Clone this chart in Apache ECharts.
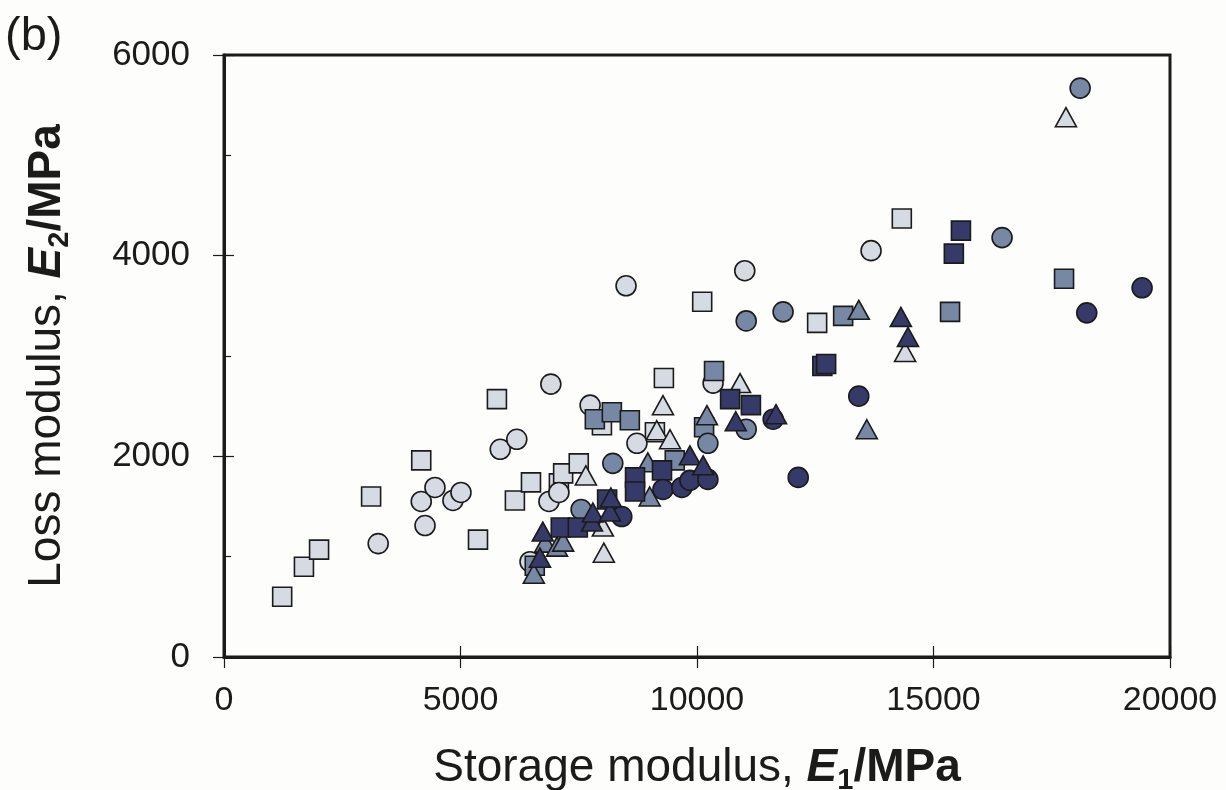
<!DOCTYPE html>
<html>
<head>
<meta charset="utf-8">
<script src="https://cdn.jsdelivr.net/npm/echarts@6/dist/echarts.min.js"></script>
<style>
  html, body { margin: 0; padding: 0; background: #fdfdfc; overflow: hidden; }
  #chart { width: 1226px; height: 790px; }
</style>
</head>
<body>
<div id="chart"></div>
<script>
// Storage modulus E1 (MPa) vs loss modulus E2 (MPa), [E1, E2] pairs per group
const lightSquares = [[1230, 600], [1690, 900], [2010, 1070], [3110, 1600], [4170, 1960], [5370, 1170], [5770, 2570], [6150, 1560], [6490, 1740], [7080, 1730], [7170, 1830], [7500, 1930], [7990, 2310], [9110, 2240], [9300, 2780], [10110, 3540], [12540, 3330], [14330, 4370]];
const lightCircles = [[3260, 1130], [4170, 1550], [4250, 1310], [4460, 1690], [4840, 1560], [5010, 1640], [5840, 2070], [6190, 2170], [6470, 950], [6870, 1550], [7080, 1640], [6910, 2720], [7740, 2510], [8500, 3700], [8730, 2130], [10340, 2730], [11010, 3850], [13680, 4050]];
const lightTriangles = [[7650, 1810], [8010, 1300], [8030, 1040], [9150, 2260], [9280, 2510], [9430, 2170], [10910, 2730], [14400, 3040], [17800, 5380]];

const midSquares = [[6570, 910], [7840, 2370], [8200, 2440], [8580, 2360], [9530, 1960], [10150, 2290], [10360, 2850], [13090, 3400], [15350, 3440], [17760, 3770]];
const midCircles = [[7550, 1470], [8220, 1930], [10230, 2130], [11040, 2270], [11040, 3350], [11820, 3440], [16450, 4180], [18100, 5670]];
const midTriangles = [[6550, 830], [6790, 1140], [7040, 1100], [7170, 1150], [8960, 1940], [9000, 1600], [10210, 2410], [13420, 3460], [13590, 2270]];

const darkSquares = [[7120, 1290], [7480, 1290], [8100, 1570], [8690, 1790], [8690, 1650], [9260, 1860], [10700, 2570], [11140, 2510], [12650, 2900], [12730, 2920], [15430, 4020], [15580, 4250]];
const darkCircles = [[8410, 1400], [9280, 1670], [9680, 1690], [9850, 1760], [10230, 1770], [11610, 2370], [12140, 1790], [13420, 2600], [18240, 3430], [19410, 3680]];
const darkTriangles = [[6680, 990], [6740, 1250], [7780, 1350], [7800, 1440], [8160, 1450], [8180, 1590], [9850, 2010], [10130, 1910], [10820, 2350], [11670, 2420], [14310, 3390], [14460, 3190]];

const xRange = { min: 0, max: 20000, interval: 5000 };
const yRange = { min: 0, max: 6000, interval: 2000 };

const FONT = "'Liberation Sans', Arial, Helvetica, sans-serif";
const INK = '#1b1b1b';
const fills = { light: '#d5dae3', mid: '#7788a4', dark: '#363a69' };

function scatter(data, shape, fill) {
  const size = shape === 'triangle' ? [21, 19] : (shape === 'rect' ? 19 : 20);
  return {
    type: 'scatter',
    data: data,
    symbol: shape,
    symbolSize: size,
    itemStyle: { color: fill, borderColor: INK, borderWidth: 1.6, opacity: 1 },
    emphasis: { disabled: true }
  };
}

// plain integers on the tick labels, no thousands separator
const plain = v => String(Math.round(v));

const nameRich = {
  n: { fontSize: 46, fontFamily: FONT, color: INK, lineHeight: 54, verticalAlign: 'middle' },
  e: { fontSize: 46, fontFamily: FONT, color: INK, fontWeight: 'bold', fontStyle: 'italic', lineHeight: 54, verticalAlign: 'middle' },
  s: { fontSize: 29, fontFamily: FONT, color: INK, fontWeight: 'bold', lineHeight: 30, verticalAlign: 'bottom' },
  b: { fontSize: 46, fontFamily: FONT, color: INK, fontWeight: 'bold', lineHeight: 54, verticalAlign: 'middle' }
};

const chart = echarts.init(document.getElementById('chart'), null, { renderer: 'canvas', width: 1226, height: 790 });
chart.setOption({
  backgroundColor: '#fdfdfc',
  animation: false,
  title: {
    text: '(b)', left: 0, top: 9,
    textStyle: { fontFamily: FONT, fontSize: 47, fontWeight: 'normal', color: INK }
  },
  grid: {
    left: 224, right: 56, top: 55, bottom: 133,
    outerBoundsMode: 'none', containLabel: false,
    show: true, borderColor: INK, borderWidth: 3, backgroundColor: 'transparent'
  },
  xAxis: [{
    type: 'value', min: xRange.min, max: xRange.max, interval: xRange.interval,
    position: 'bottom',
    axisLine: { show: true, lineStyle: { color: INK, width: 3 } },
    axisTick: { show: true, inside: false, length: 11, lineStyle: { color: INK, width: 1.2 } },
    axisLabel: { margin: 27, fontSize: 34, fontFamily: FONT, color: INK, formatter: plain },
    splitLine: { show: false },
    name: '{n|Storage modulus, }{e|E}{s|1}{b|/MPa}',
    nameLocation: 'middle', nameGap: 84,
    nameTextStyle: { rich: nameRich }
  }, {
    type: 'value', min: xRange.min, max: xRange.max, interval: xRange.interval,
    position: 'bottom',
    axisLine: { show: false },
    axisTick: { show: true, inside: true, length: 11, lineStyle: { color: INK, width: 1.2 } },
    axisLabel: { show: false },
    splitLine: { show: false }
  }],
  yAxis: [{
    type: 'value', min: yRange.min, max: yRange.max, interval: yRange.interval,
    position: 'left',
    axisLine: { show: true, lineStyle: { color: INK, width: 3 } },
    axisTick: { show: true, inside: false, length: 11, lineStyle: { color: INK, width: 1.2 } },
    axisLabel: { margin: 34, fontSize: 35, fontFamily: FONT, color: INK, formatter: plain },
    splitLine: { show: false },
    name: '{n|Loss modulus, }{e|E}{s|2}{b|/MPa}',
    nameLocation: 'middle', nameGap: 150, nameRotate: 90,
    nameTextStyle: { rich: nameRich }
  }, {
    type: 'value', min: yRange.min, max: yRange.max, interval: yRange.interval,
    position: 'left',
    axisLine: { show: false },
    axisTick: { show: true, inside: true, length: 10, lineStyle: { color: INK, width: 1.2 } },
    minorTick: { show: true, splitNumber: 2, length: 7, lineStyle: { color: INK, width: 1.2 } },
    axisLabel: { show: false },
    splitLine: { show: false }
  }],
  series: [
    scatter(lightSquares, 'rect', fills.light),
    scatter(lightCircles, 'circle', fills.light),
    scatter(lightTriangles, 'triangle', fills.light),
    scatter(midSquares, 'rect', fills.mid),
    scatter(midCircles, 'circle', fills.mid),
    scatter(midTriangles, 'triangle', fills.mid),
    scatter(darkSquares, 'rect', fills.dark),
    scatter(darkCircles, 'circle', fills.dark),
    scatter(darkTriangles, 'triangle', fills.dark)
  ]
});
</script>
</body>
</html>
